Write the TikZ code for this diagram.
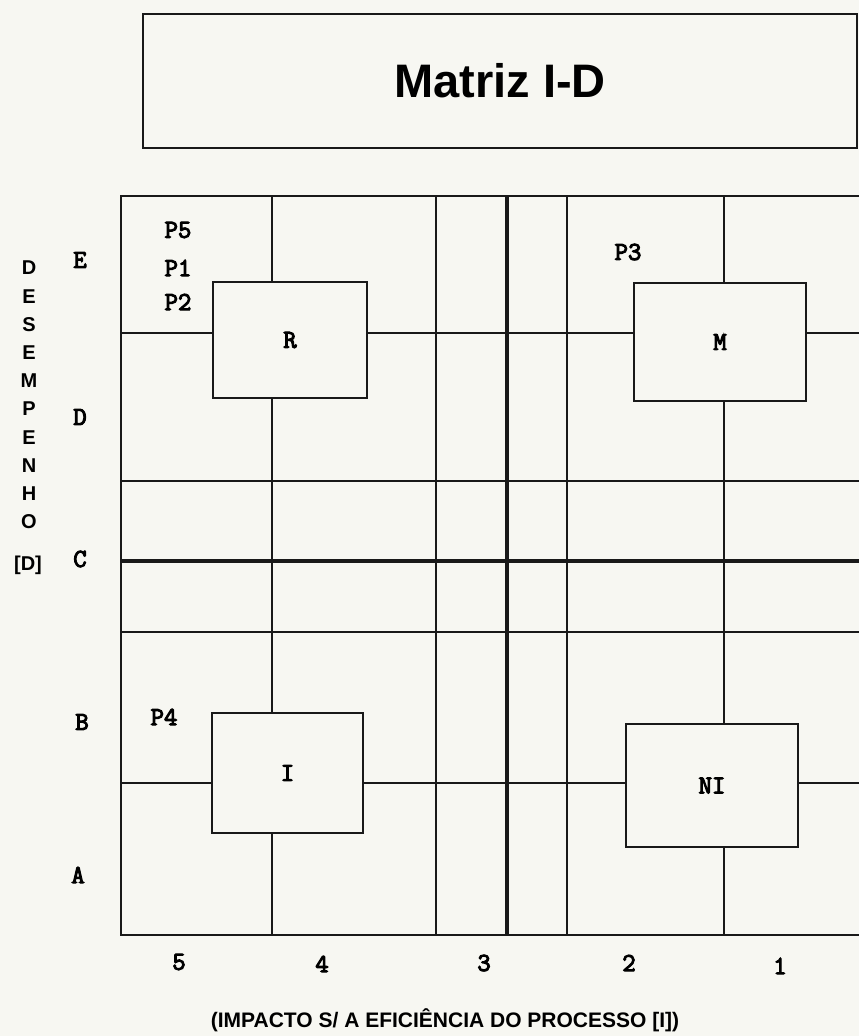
\documentclass[tikz,border=0pt]{standalone}
\usepackage{fontspec}
\setmainfont{Liberation Sans}
\newfontfamily\courb[FakeBold=4]{Latin Modern Mono}
\definecolor{paper}{RGB}{247,247,242}
\definecolor{ink}{RGB}{25,25,25}
\tikzset{
  thinline/.style={draw=ink, line width=1.8pt},
  thickline/.style={draw=ink, line width=3.2pt},
  zone/.style={draw=ink, line width=1.8pt, fill=paper, inner sep=0pt,
    font=\courb\fontsize{26}{26}\selectfont},
  tag/.style={inner sep=0pt, font=\courb\fontsize{26}{26}\selectfont},
  axis/.style={inner sep=0pt, font=\bfseries\fontsize{20}{20}\selectfont},
}
\begin{document}
\begin{tikzpicture}[x=1pt,y=-1pt]
\useasboundingbox (0,0) rectangle (859,1036);
\fill[paper] (0,0) rectangle (859,1036);

% title
\node[draw=ink, line width=2.4pt, fill=paper, minimum width=714pt, minimum height=134pt, inner sep=0pt,
      font=\bfseries\fontsize{47}{47}\selectfont] (title) at (500,81) {Matriz I-D};

% grid corners
\coordinate (tl) at (121,196);
\coordinate (bl) at (121,935);
\coordinate (tr) at (859,196);
\coordinate (br) at (859,935);
\draw[thinline] (tr) -- (tl) -- (bl) -- (br);

% vertical lines
\foreach \x in {272,436,567,724} \draw[thinline] (\x,196) -- (\x,935);
\draw[thickline] (507,196) -- (507,935);
% horizontal lines
\foreach \y in {333,481,632,783} \draw[thinline] (121,\y) -- (859,\y);
\draw[thickline] (121,561) -- (859,561);

% quadrant boxes
\node[zone, minimum width=154pt, minimum height=116pt] (R) at (290,340) {R};
\node[zone, minimum width=172pt, minimum height=118pt] (M) at (720,342) {M};
\node[zone, minimum width=151pt, minimum height=120pt] (I) at (287.5,773) {I};
\node[zone, minimum width=172pt, minimum height=123pt] (NI) at (712,785.5) {NI};

% process tags
\node[tag] (p5) at (178,230) {P5};
\node[tag] (p1) at (178,268) {P1};
\node[tag] (p2) at (178,302) {P2};
\node[tag] (p3) at (628,252) {P3};
\node[tag] (p4) at (164,717) {P4};

% row labels
\node[tag] (rE) at (80,260) {E};
\node[tag] (rD) at (80,417) {D};
\node[tag] (rC) at (80,559) {C};
\node[tag] (rB) at (82,722) {B};
\node[tag] (rA) at (78,875) {A};

% column labels
\node[tag] (c5) at (179,962) {5};
\node[tag] (c4) at (322,964) {4};
\node[tag] (c3) at (484,963) {3};
\node[tag] (c2) at (629,963) {2};
\node[tag] (c1) at (780,966) {1};

% vertical axis title
\foreach \l [count=\i from 0] in {D,E,S,E,M,P,E,N,H,O}
  \node[axis] (d\i) at (29,{268+28.2*\i}) {\l};
\node[axis] (dlab) at (28,565) {[D]};

% horizontal axis title
\node[axis, font=\bfseries\fontsize{21}{21}\selectfont] (ilab) at (445,1020)
  {(IMPACTO S/ A EFICIÊNCIA DO PROCESSO [I])};
\end{tikzpicture}
\end{document}
